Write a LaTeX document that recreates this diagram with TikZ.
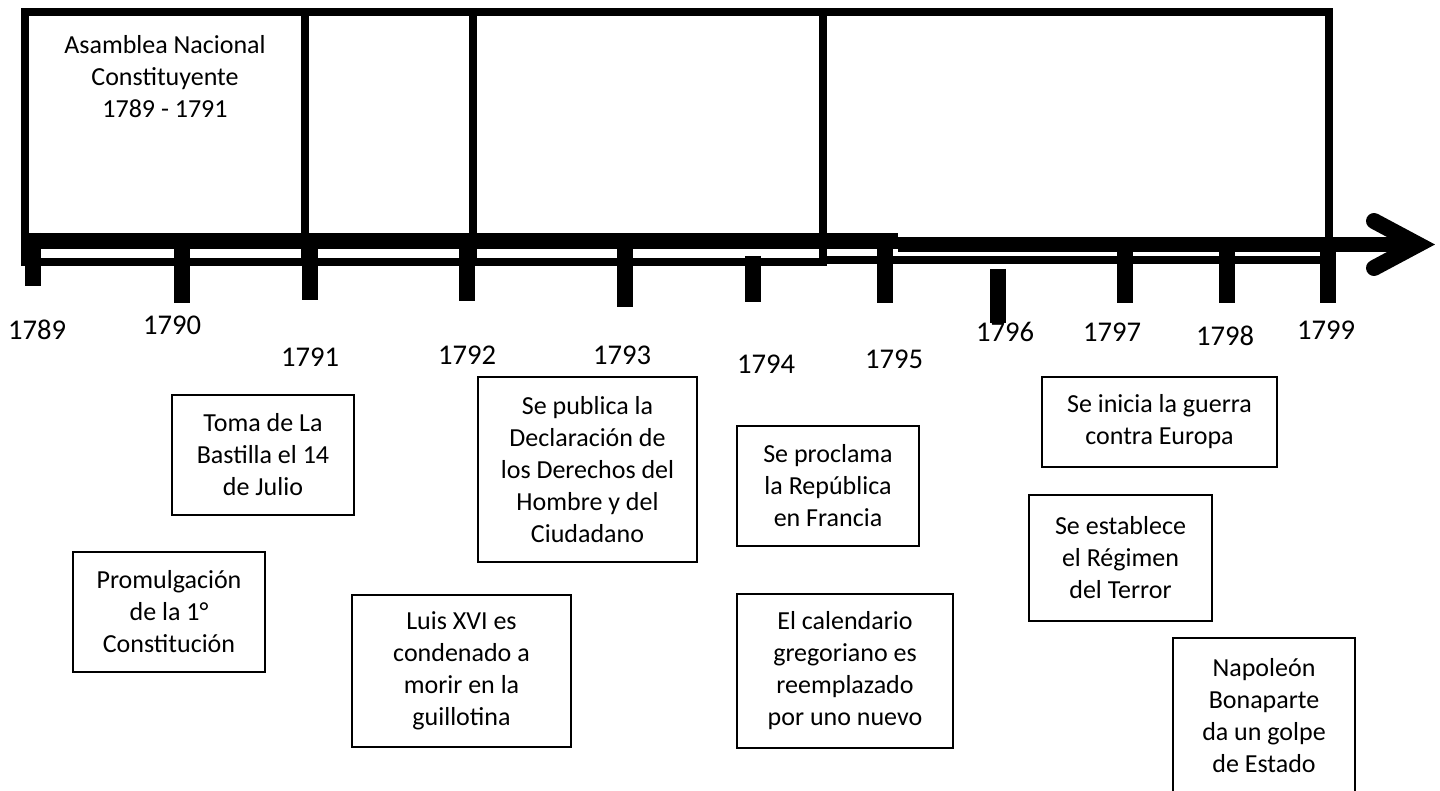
\documentclass[tikz,border=0pt]{standalone}
\usepackage{fontspec}
\setmainfont{Carlito}
\usetikzlibrary{positioning}

\begin{document}
\begin{tikzpicture}[x=0.5pt, y=-0.5pt, font=\fontsize{13}{16}\selectfont]
		\tikzset{periodo/.style={draw,line width=4pt,inner sep=0pt},
			evento/.style={draw,line width=0.7pt,inner sep=0pt,align=center},
			anio/.style={font=\fontsize{14.3}{17}\selectfont,inner sep=0pt},
			marca/.style={line width=8pt},
			eje/.style={line width=8pt}}
		
		\useasboundingbox (0,0) rectangle (1440,791);
		
		% etapas sobre la linea de tiempo
		\node[periodo,minimum width=140pt,minimum height=124.75pt] (asamblea) at (165,137.25) {};
		\node[periodo,minimum width=84pt,minimum height=124.75pt] (etapaB) at (389,137.25) {};
		\node[periodo,minimum width=175pt,minimum height=124.75pt] (etapaC) at (648,137.25) {};
		\node[periodo,minimum width=253pt,minimum height=123.75pt] (etapaD) at (1076,136.25) {};
		
		\node[align=center] (asambleatxt) at (165,77) {Asamblea Nacional\\Constituyente\\1789 - 1791};
		
		% eje y flecha
		\draw[eje] (33,241) -- (898,241);
		\draw[eje,line width=7.5pt] (898,244.5) -- (1418,244.5);
		\draw[line width=8pt,line cap=round,line join=miter] (1374,221) -- (1418,244.5) -- (1374,268);
		
		% marcas de los anios
		\draw[marca] (33,233) -- (33,286);
		\draw[marca] (181.5,241) -- (181.5,303);
		\draw[marca] (309.5,241) -- (309.5,300);
		\draw[marca] (467,241) -- (467,301);
		\draw[marca] (625,241) -- (625,307);
		\draw[marca] (753,256) -- (753,302);
		\draw[marca] (885,241) -- (885,303);
		\draw[marca] (998,269) -- (998,323);
		\draw[marca] (1125,244) -- (1125,303);
		\draw[marca] (1227,244) -- (1227,303);
		\draw[marca] (1328,244) -- (1328,303);
		
		\node[anio] (a1789) at (37,330) {1789};
		\node[anio] (a1790) at (172,325) {1790};
		\node[anio] (a1791) at (310,357) {1791};
		\node[anio] (a1792) at (467,355) {1792};
		\node[anio] (a1793) at (622,355) {1793};
		\node[anio] (a1794) at (766,364) {1794};
		\node[anio] (a1795) at (894,359) {1795};
		\node[anio] (a1796) at (1005,332) {1796};
		\node[anio] (a1797) at (1112,332) {1797};
		\node[anio] (a1798) at (1225,336) {1798};
		\node[anio] (a1799) at (1326,330) {1799};
		
		% acontecimientos
		\node[evento,minimum width=91pt,minimum height=60pt] (bastilla) at (263,455) {Toma de La\\Bastilla el 14\\de Julio};
		\node[evento,minimum width=96pt,minimum height=60pt] (constitucion) at (169,612) {Promulgación\\de la 1°\\Constitución};
		\node[evento,minimum width=109.5pt,minimum height=76pt] (luis) at (461.5,671) {Luis XVI es\\condenado a\\morir en la\\guillotina};
		\node[evento,minimum width=109.5pt,minimum height=92.5pt] (declaracion) at (587.5,469.5) {Se publica la\\Declaración de\\los Derechos del\\Hombre y del\\Ciudadano};
		\node[evento,minimum width=91pt,minimum height=60pt] (republica) at (828,486) {Se proclama\\la República\\en Francia};
		\node[evento,minimum width=108pt,minimum height=77pt] (calendario) at (845,671) {El calendario\\gregoriano es\\reemplazado\\por uno nuevo};
		\node[evento,minimum width=117.5pt,minimum height=45pt] (guerra) at (1159.5,422) {Se inicia la guerra\\contra Europa};
		\node[evento,minimum width=91.5pt,minimum height=63pt] (terror) at (1120.5,558) {Se establece\\el Régimen\\del Terror};
		\node[evento,minimum width=91pt,minimum height=78pt] (golpe) at (1264,716) {Napoleón\\Bonaparte\\da un golpe\\de Estado};
	\end{tikzpicture}
\end{document}
